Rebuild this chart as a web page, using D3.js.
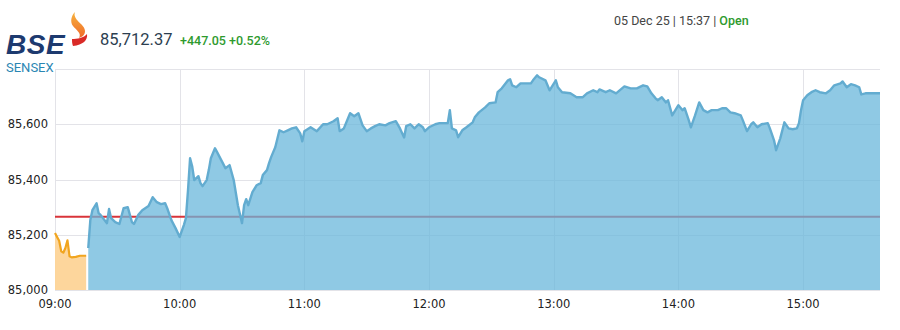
<!DOCTYPE html>
<html>
<head>
<meta charset="utf-8">
<script src="https://cdn.jsdelivr.net/npm/d3@7"></script>
<style>
  html, body { margin: 0; padding: 0; background: #fff; }
  svg { display: block; }
</style>
</head>
<body>
<svg id="chart" width="900" height="330"></svg>
<script>
// ---- Data ----
const preOpenTimes = ["09:00","09:01","09:02","09:03","09:04","09:05","09:06","09:07","09:08","09:10","09:12","09:15"];
const preOpenValues = [85206,85192,85178,85140,85135,85152,85180,85122,85118,85120,85124,85124];

const sessionTimes = [
  "09:16","09:17","09:18","09:20","09:21","09:22","09:25","09:26","09:27","09:29","09:31","09:33","09:35","09:37","09:38","09:40","09:42","09:45","09:47","09:49","09:51","09:53","09:54","09:56","09:58",
  "10:00","10:02","10:03","10:04","10:05","10:06","10:07","10:09","10:10","10:11","10:13","10:14","10:15","10:17","10:18","10:20","10:22","10:24","10:26","10:28","10:30","10:31","10:32","10:33","10:35","10:37","10:39","10:40","10:42","10:43","10:44","10:45","10:46","10:48","10:50","10:52","10:54","10:56","10:58","10:59",
  "11:00","11:03","11:06","11:09","11:11","11:14","11:16","11:17","11:19","11:22","11:24","11:26","11:28","11:30","11:32","11:34","11:36","11:39","11:41","11:44","11:46","11:48","11:49","11:51","11:53","11:55","11:57","11:58",
  "12:00","12:03","12:05","12:09","12:10","12:11","12:13","12:14","12:16","12:18","12:21","12:22","12:24","12:27","12:29","12:32","12:33","12:35","12:38","12:39","12:40","12:42","12:44","12:49","12:50","12:52","12:53","12:56","12:58",
  "13:01","13:02","13:04","13:08","13:11","13:14","13:16","13:19","13:21","13:22","13:25","13:27","13:30","13:34","13:37","13:40","13:43","13:45","13:47","13:49","13:50","13:52","13:54","13:55","13:57",
  "14:00","14:02","14:03","14:05","14:06","14:08","14:10","14:12","14:14","14:16","14:19","14:21","14:23","14:25","14:27","14:30","14:31","14:33","14:35","14:36","14:38","14:40","14:43","14:44","14:46","14:47","14:49","14:51","14:53","14:55","14:57","14:58","14:59",
  "15:00","15:02","15:04","15:06","15:08","15:11","15:13","15:15","15:18","15:19","15:21","15:23","15:25","15:27","15:28","15:30","15:37"
];
const sessionValues = [
  85152,85253,85289,85314,85278,85271,85242,85293,85260,85246,85239,85296,85300,85246,85239,85271,85289,85304,85336,85318,85311,85314,85296,85253,85224,
  85192,85235,85260,85361,85477,85448,85398,85412,85387,85376,85398,85434,85477,85513,85499,85470,85441,85452,85398,85307,85242,85307,85329,85307,85354,85379,85387,85416,85434,85459,85481,85499,85517,85578,85571,85578,85585,85589,85567,85538,
  85575,85589,85575,85600,85600,85611,85622,85575,85585,85640,85629,85640,85596,85575,85585,85593,85600,85596,85604,85611,85585,85552,85593,85600,85585,85600,85589,85575,
  85589,85600,85604,85604,85651,85585,85578,85553,85578,85589,85607,85625,85643,85661,85676,85679,85716,85730,85759,85763,85741,85734,85748,85748,85759,85777,85770,85759,85723,
  85759,85734,85716,85712,85698,85698,85712,85723,85716,85726,85716,85723,85712,85737,85730,85730,85741,85737,85712,85694,85687,85698,85679,85687,85632,
  85669,85651,85658,85614,85589,85632,85679,85651,85643,85651,85651,85658,85658,85643,85640,85632,85614,85575,85600,85607,85589,85600,85604,85585,85542,85506,85549,85607,85585,85582,85585,85604,85651,
  85687,85705,85716,85723,85716,85712,85723,85741,85748,85755,85734,85745,85741,85734,85708,85712,85712
];

const previousClose = 85265.32;
const yTicks = [85000, 85200, 85400, 85600, 85800];
const yTickLabels = ["85,000", "85,200", "85,400", "85,600", ""];
const xTickLabels = ["09:00", "10:00", "11:00", "12:00", "13:00", "14:00", "15:00"];
const xDomain = ["09:00", "15:37"];

const headerPrice = "85,712.37";
const headerChange = "+447.05 +0.52%";
const headerDate = "05 Dec 25 | 15:37 | ";
const headerStatus = "Open";

// ---- Setup ----
const parse = d3.timeParse("%H:%M");
const svg = d3.select("#chart");

const x = d3.scaleTime().domain(xDomain.map(parse)).range([55, 880]);
const y = d3.scaleLinear().domain([85000, 85800]).range([290, 69]);

const pre = preOpenTimes.map((t, i) => ({ t: parse(t), v: preOpenValues[i] }));
const ses = sessionTimes.map((t, i) => ({ t: parse(t), v: sessionValues[i] }));

// ---- Grid ----
const grid = svg.append("g");
grid.selectAll("line.h").data(yTicks).enter().append("line")
  .attr("x1", 55).attr("x2", 880)
  .attr("y1", d => Math.round(y(d)) + 0.5).attr("y2", d => Math.round(y(d)) + 0.5)
  .attr("stroke", "#e3e3e8").attr("stroke-width", 1);
grid.selectAll("line.v").data(xTickLabels).enter().append("line")
  .attr("x1", d => Math.round(x(parse(d))) + 0.5).attr("x2", d => Math.round(x(parse(d))) + 0.5)
  .attr("y1", y(85800)).attr("y2", y(85000))
  .attr("stroke", "#e3e3e8").attr("stroke-width", 1);

// ---- Previous close line (under the translucent fill) ----
svg.append("line")
  .attr("x1", 55).attr("x2", 880)
  .attr("y1", y(previousClose)).attr("y2", y(previousClose))
  .attr("stroke", "#d9343a").attr("stroke-width", 2);

// ---- Areas ----
const area = d3.area().x(d => x(d.t)).y0(y(85000)).y1(d => y(d.v));
const line = d3.line().x(d => x(d.t)).y(d => y(d.v));

svg.append("path").datum(pre)
  .attr("d", area)
  .attr("fill", "#fdd497").attr("fill-opacity", 0.95);
svg.append("path").datum(pre)
  .attr("d", line)
  .attr("fill", "none").attr("stroke", "#f1a51f").attr("stroke-width", 2.2)
  .attr("stroke-linejoin", "round");

svg.append("path").datum(ses)
  .attr("d", area)
  .attr("fill", "rgb(104,182,218)").attr("fill-opacity", 0.74);
svg.append("path").datum(ses)
  .attr("d", line)
  .attr("fill", "none").attr("stroke", "#63acd0").attr("stroke-width", 2.4)
  .attr("stroke-linejoin", "round");

// ---- Axes labels ----
const axisFont = "'DejaVu Sans', Verdana, sans-serif";
svg.append("g").selectAll("text").data(yTicks).enter().append("text")
  .attr("x", 48).attr("y", d => y(d) + 4)
  .attr("text-anchor", "end")
  .attr("font-family", axisFont).attr("font-size", 11.5).attr("fill", "#222")
  .text((d, i) => yTickLabels[i]);

svg.append("g").selectAll("text").data(xTickLabels).enter().append("text")
  .attr("x", d => x(parse(d)))
  .attr("y", 308)
  .attr("text-anchor", "middle")
  .attr("font-family", axisFont).attr("font-size", 11.5).attr("fill", "#222")
  .text(d => d);

// ---- Header ----
const logo = svg.append("g");
logo.append("text")
  .attr("x", 6).attr("y", 53.5)
  .attr("font-family", "'Liberation Sans', Arial, sans-serif")
  .attr("font-weight", 900).attr("font-style", "italic")
  .attr("font-size", 28).attr("fill", "#1d3a6f")
  .attr("letter-spacing", 0.5)
  .text("BSE");
const grad = svg.append("defs").append("linearGradient")
  .attr("id", "flame").attr("x1", 0).attr("y1", 0).attr("x2", 0).attr("y2", 1);
grad.append("stop").attr("offset", "0%").attr("stop-color", "#f7b23c");
grad.append("stop").attr("offset", "100%").attr("stop-color", "#ef6a2a");
logo.append("path")
  .attr("d", "M75,12 C72,20 85,24 85,31 C85,35 82,37 79,38 C82,33 76,30 73,26 C70,22 71,16 75,12 Z")
  .attr("fill", "url(#flame)");
logo.append("path")
  .attr("d", "M72,39 C77,39 84,38 87,34 C88,40 83,45 73,46 C72,44 72,41 72,39 Z")
  .attr("fill", "#d92a27");
logo.append("text")
  .attr("x", 6).attr("y", 71.5)
  .attr("font-family", "Roboto, 'Liberation Sans', sans-serif")
  .attr("font-size", 13).attr("fill", "#2a86b3")
  .text("SENSEX");

svg.append("text")
  .attr("x", 100).attr("y", 45)
  .attr("font-family", "Roboto, sans-serif")
  .attr("font-size", 16.5).attr("fill", "#2c3e50")
  .text(headerPrice);
svg.append("text")
  .attr("x", 180).attr("y", 45)
  .attr("font-family", "Roboto, sans-serif").attr("font-weight", 500)
  .attr("font-size", 12.5).attr("fill", "#2e9a2e")
  .text(headerChange);

const dateText = svg.append("text")
  .attr("x", 614).attr("y", 25)
  .attr("font-family", "Roboto, sans-serif")
  .attr("font-size", 12.5).attr("fill", "#444");
dateText.append("tspan").text(headerDate);
dateText.append("tspan").attr("fill", "#2e9a2e").attr("font-weight", 500).text(headerStatus);
</script>
</body>
</html>
